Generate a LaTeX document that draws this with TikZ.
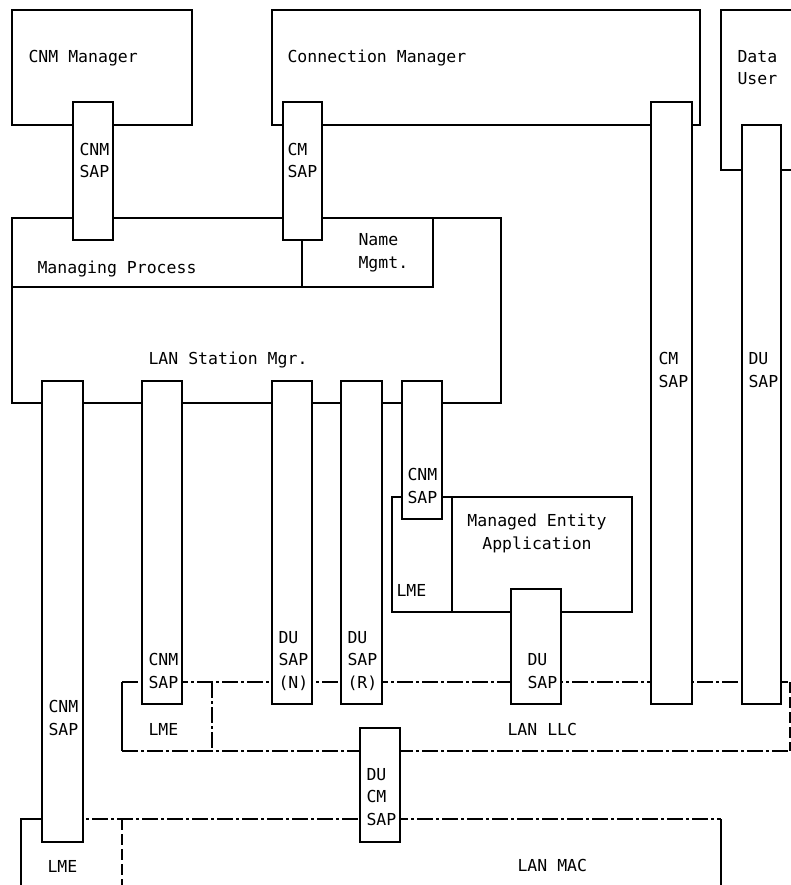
\documentclass[tikz,border=0pt]{standalone}
\usepackage{fontspec}
\setmonofont{DejaVu Sans Mono}
\usepackage{tikz}

\begin{document}
\begin{tikzpicture}[x=1pt, y=-1pt, line width=1.1pt,
    sap/.style={draw, fill=white},
    dashdot/.style={dash pattern=on 16pt off 3pt on 3pt off 3pt},
    longdash/.style={dash pattern=on 11pt off 4pt},
    lbl/.style={anchor=base west, align=left, inner sep=0pt,
        font=\ttfamily\fontsize{16.5}{22.5}\selectfont}]
        \useasboundingbox (0,0) rectangle (791,885);
        \clip (0,0) rectangle (791,885);

        % Upper boxes
        \draw (12,10) rectangle (192,125);
        \draw (272,10) rectangle (700,125);
        \draw (721,10) rectangle (810,170);

        % LAN Station Mgr. with Managing Process and Name Mgmt.
        \draw (12,218) rectangle (501,403);
        \draw (12,287) -- (433,287) -- (433,218);
        \draw (302,218) -- (302,287);

        % Managed Entity Application
        \draw (392,497) rectangle (632,612);
        \draw (452,497) -- (452,612);

        % LAN LLC
        \draw (122,682) -- (122,751);
        \draw[dashdot] (122,682) -- (790,682);
        \draw[dashdot] (122,751) -- (790,751);
        \draw[longdash] (790,682) -- (790,751);
        \draw[dashdot] (212,682) -- (212,751);

        % LAN MAC
        \draw (21,900) -- (21,819) -- (42,819);
        \draw[dashdot] (42,819) -- (721,819);
        \draw (721,819) -- (721,900);
        \draw[longdash] (122,819) -- (122,900);

        % SAPs
        \draw[sap] (73,102) rectangle (113,240);
        \draw[sap] (283,102) rectangle (322,240);
        \draw[sap] (651,102) rectangle (692,704);
        \draw[sap] (742,125) rectangle (781,704);
        \draw[sap] (42,381) rectangle (83,842);
        \draw[sap] (142,381) rectangle (182,704);
        \draw[sap] (272,381) rectangle (312,704);
        \draw[sap] (341,381) rectangle (382,704);
        \draw[sap] (402,381) rectangle (442,519);
        \draw[sap] (511,589) rectangle (561,704);
        \draw[sap] (360,728) rectangle (400,842);

        % Labels (base = last line)
        \node[lbl] (cnmmgr) at (28,63) {CNM Manager};
        \node[lbl] (conmgr) at (287,63) {Connection Manager};
        \node[lbl] (datauser) at (737,85) {Data\\User};
        \node[lbl] (cnmsapa) at (79,178) {CNM\\SAP};
        \node[lbl] (cmsapa) at (287,178) {CM\\SAP};
        \node[lbl] (mproc) at (37,273) {Managing Process};
        \node[lbl] (namemgmt) at (358,268) {Name\\Mgmt.};
        \node[lbl] (lsm) at (148,364) {LAN Station Mgr.};
        \node[lbl] (cnmsapb) at (407,503) {CNM\\SAP};
        \node[lbl, anchor=base, align=center] (meapp) at (537,549) {Managed Entity\\Application};
        \node[lbl] (lmea) at (396,596) {LME};
        \node[lbl] (cmsapb) at (658,387) {CM\\SAP};
        \node[lbl] (dusapa) at (748,387) {DU\\SAP};
        \node[lbl] (cnmsapc) at (48,735) {CNM\\SAP};
        \node[lbl] (cnmsapd) at (148,688) {CNM\\SAP};
        \node[lbl] (dusapn) at (278,688) {DU\\SAP\\(N)};
        \node[lbl] (dusapr) at (347,688) {DU\\SAP\\(R)};
        \node[lbl] (lmeb) at (148,735) {LME};
        \node[lbl] (ducmsap) at (366,825) {DU\\CM\\SAP};
        \node[lbl] (dusapb) at (527,688) {DU\\SAP};
        \node[lbl] (llc) at (507,735) {LAN LLC};
        \node[lbl] (lmec) at (47,872) {LME};
        \node[lbl] (mac) at (517,871) {LAN MAC};
    \end{tikzpicture}
\end{document}
